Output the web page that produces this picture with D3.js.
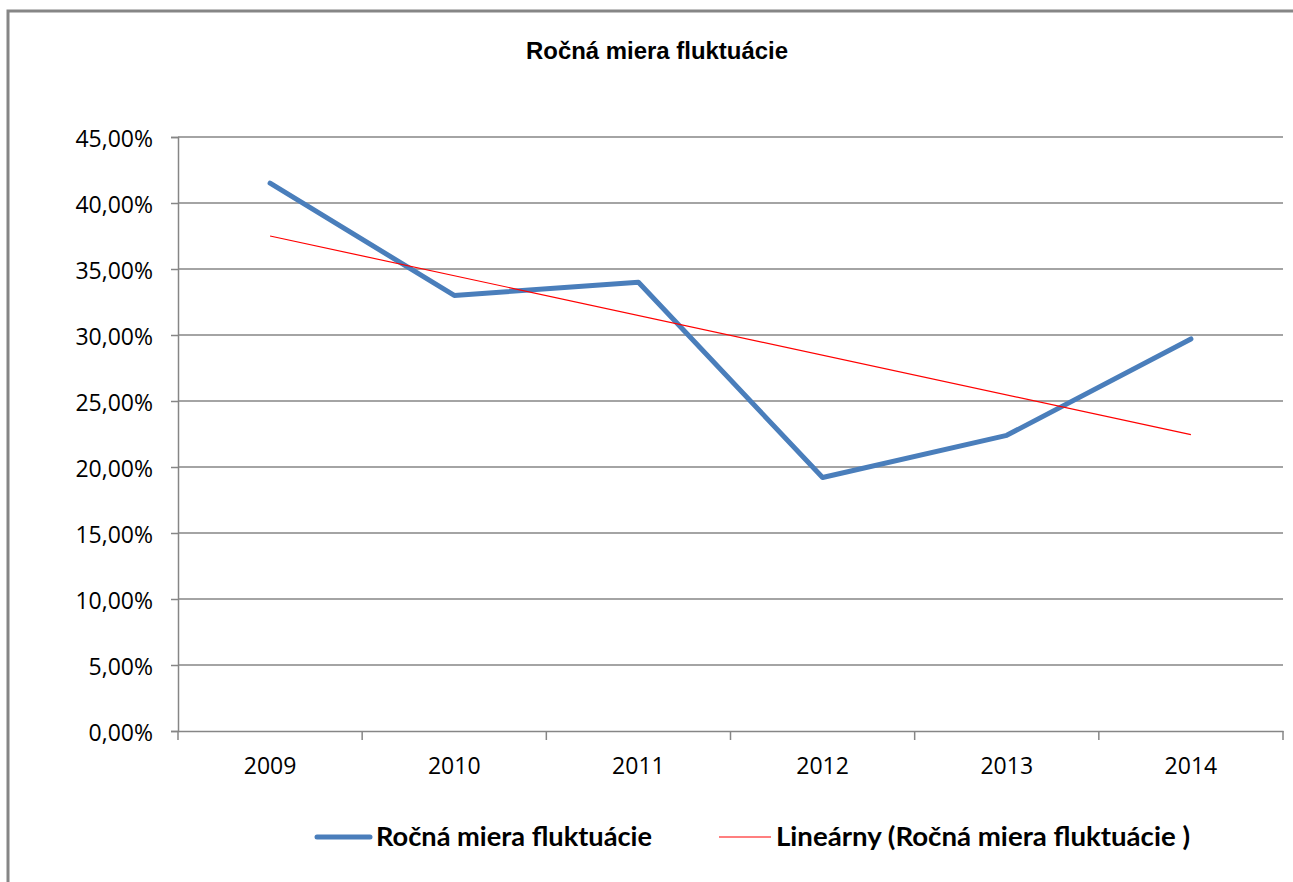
<!DOCTYPE html>
<html>
<head>
<meta charset="utf-8">
<script src="https://cdn.jsdelivr.net/npm/d3@7"></script>
<style>
  body { margin: 0; background: #fff; }
</style>
</head>
<body>
<svg id="chart" width="1293" height="882"></svg>
<script>
// values
const years = ["2009", "2010", "2011", "2012", "2013", "2014"];
const fluct = [0.415, 0.330, 0.340, 0.192, 0.224, 0.297];
const trendYears = ["2009", "2014"];
const trendVals = [0.375, 0.2245];
const yTicks = [0, 0.05, 0.10, 0.15, 0.20, 0.25, 0.30, 0.35, 0.40, 0.45];

const svg = d3.select("#chart");
const plotLeft = 178, plotRight = 1283, plotTop = 137, plotBottom = 731;

const x = d3.scaleBand().domain(years).range([plotLeft, plotRight]).padding(0);
const y = d3.scaleLinear().domain([0, 0.45]).range([plotBottom, plotTop]);

// outer frame (only top and left visible)
svg.append("path")
    .attr("d", `M8,882 L8,11 L1293,11`)
    .attr("fill", "none")
    .attr("stroke", "#868686")
    .attr("stroke-width", 3);

// title
svg.append("text")
    .attr("x", 657)
    .attr("y", 59)
    .attr("text-anchor", "middle")
    .attr("font-family", "Liberation Sans, Arial, sans-serif")
    .attr("font-weight", "bold")
    .attr("font-size", 24)
    .attr("textLength", 262)
    .attr("lengthAdjust", "spacingAndGlyphs")
    .text("Ročná miera fluktuácie");

// gridlines
svg.append("g")
    .selectAll("line")
    .data(yTicks.filter(d => d > 0))
    .join("line")
    .attr("x1", plotLeft).attr("x2", plotRight)
    .attr("y1", d => y(d)).attr("y2", d => y(d))
    .attr("stroke", "#868686")
    .attr("stroke-width", 1.5);

// y axis
const yAxis = svg.append("g")
    .attr("transform", `translate(${plotLeft},0)`)
    .call(d3.axisLeft(y).tickValues(yTicks).tickSize(7).tickPadding(18)
        .tickFormat(d => (d * 100).toFixed(2).replace(".", ",") + "%"));
yAxis.selectAll("path, line").attr("stroke", "#868686").attr("stroke-width", 1.5);
yAxis.selectAll("text")
    .attr("font-family", "Open Sans, sans-serif")
    .attr("font-size", 23)
    .attr("dy", "0.4em")
    .attr("fill", "#000");

// x axis
const xAxis = svg.append("g")
    .attr("transform", `translate(0,${plotBottom})`)
    .call(d3.axisBottom(x).tickSize(0).tickPadding(27));
xAxis.select(".domain").attr("stroke", "#868686").attr("stroke-width", 1.5);
xAxis.selectAll("text")
    .attr("font-family", "Open Sans, sans-serif")
    .attr("font-size", 23)
    .attr("fill", "#000");

// category boundary ticks
const bounds = years.map(d => x(d)).concat([x(years[years.length - 1]) + x.bandwidth()]);
svg.append("g")
    .selectAll("line")
    .data(bounds)
    .join("line")
    .attr("x1", d => d).attr("x2", d => d)
    .attr("y1", plotBottom).attr("y2", plotBottom + 9)
    .attr("stroke", "#868686")
    .attr("stroke-width", 1.5);

const cx = d => x(d) + x.bandwidth() / 2;

// data line
const line = d3.line()
    .x((d, i) => cx(years[i]))
    .y(d => y(d));

svg.append("path")
    .datum(fluct)
    .attr("fill", "none")
    .attr("stroke", "#4a7ebb")
    .attr("stroke-width", 5)
    .attr("stroke-linejoin", "round")
    .attr("stroke-linecap", "round")
    .attr("d", line);

// linear trend line
svg.append("path")
    .datum(trendVals)
    .attr("fill", "none")
    .attr("stroke", "#ff0000")
    .attr("stroke-width", 1.2)
    .attr("d", d3.line().x((d, i) => cx(trendYears[i])).y(d => y(d)));

// legend
const legendY = 837;
const legend = svg.append("g").attr("font-family", "Lato, sans-serif")
    .attr("font-weight", "bold").attr("font-size", 26);

legend.append("line")
    .attr("x1", 317).attr("x2", 370)
    .attr("y1", legendY).attr("y2", legendY)
    .attr("stroke", "#4a7ebb").attr("stroke-width", 5)
    .attr("stroke-linecap", "round");
legend.append("text")
    .attr("x", 376).attr("y", legendY + 9)
    .attr("textLength", 276).attr("lengthAdjust", "spacingAndGlyphs")
    .text("Ročná miera fluktuácie");

legend.append("line")
    .attr("x1", 719).attr("x2", 771)
    .attr("y1", legendY).attr("y2", legendY)
    .attr("stroke", "#ff0000").attr("stroke-width", 1.2);
legend.append("text")
    .attr("x", 776).attr("y", legendY + 9)
    .attr("textLength", 414).attr("lengthAdjust", "spacingAndGlyphs")
    .text("Lineárny (Ročná miera fluktuácie )");
</script>
</body>
</html>
